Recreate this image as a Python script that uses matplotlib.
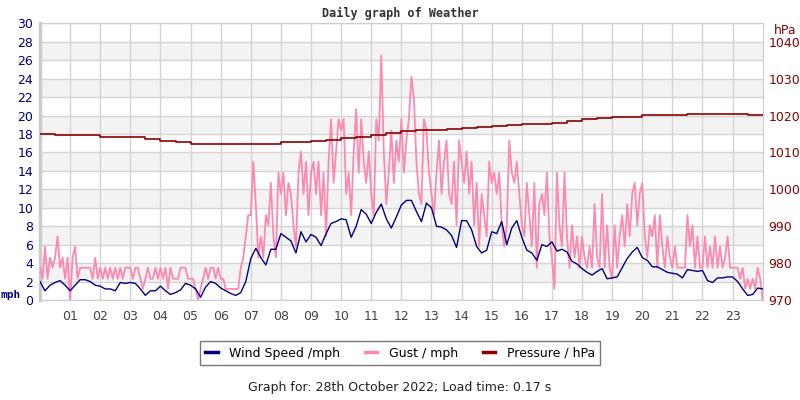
import numpy as np
import matplotlib
matplotlib.use('Agg')
import matplotlib.pyplot as plt
from matplotlib.lines import Line2D

# Wind speed (mph), one reading every 10 minutes, 00:00 -> 24:00
wind_speed = [
    2.0, 1.0, 1.6, 1.9, 2.1, 1.6,
    1.0, 1.6, 2.2, 2.2, 2.0, 1.6,
    1.5, 1.2, 1.2, 1.0, 1.9, 1.8,
    1.9, 1.8, 1.2, 0.5, 1.0, 1.0,
    1.5, 1.0, 0.6, 0.8, 1.1, 1.8,
    1.6, 1.2, 0.3, 1.4, 2.0, 1.8,
    1.3, 1.0, 0.7, 0.5, 0.8, 2.0,
    4.5, 5.6, 4.6, 3.8, 5.5, 5.5,
    7.2, 6.8, 6.4, 5.1, 7.4, 6.3,
    7.1, 6.8, 5.9, 7.2, 8.3, 8.5,
    8.8, 8.7, 6.8, 8.0, 9.8, 9.3,
    8.3, 9.5, 10.4, 8.8, 7.8, 9.0,
    10.3, 10.8, 10.8, 9.6, 8.5, 10.5,
    10.0, 8.0, 7.9, 7.6, 7.0, 5.7,
    8.6, 8.6, 7.6, 5.8, 5.1, 5.4,
    7.4, 7.2, 8.5, 6.0, 7.8, 8.6,
    6.8, 5.4, 5.1, 4.3, 6.0, 5.8,
    6.3, 5.3, 5.5, 5.2, 4.2, 3.9,
    3.4, 3.0, 2.7, 3.1, 3.4, 2.3,
    2.4, 2.5, 3.5, 4.5, 5.2, 5.7,
    4.6, 4.3, 3.6, 3.6, 3.3, 3.0,
    2.9, 2.8, 2.4, 3.3, 3.2, 3.1,
    3.2, 2.1, 1.9, 2.4, 2.4, 2.5,
    2.5, 2.0, 1.2, 0.5, 0.6, 1.3,
    1.2,
]

# Gust (mph), one reading every 5 minutes
gust = [
    3.5, 2.3, 5.8, 2.3, 4.6, 3.5, 4.6, 6.9, 3.5, 4.6, 2.3, 4.6,
    0.0, 4.6, 5.8, 2.3, 3.5, 3.5, 3.5, 3.5, 3.5, 2.3, 4.6, 2.3,
    3.5, 2.3, 3.5, 2.3, 3.5, 2.3, 3.5, 2.3, 3.5, 2.3, 3.5, 3.5,
    3.5, 2.3, 3.5, 3.5, 2.3, 1.2, 2.3, 3.5, 2.3, 2.3, 3.5, 2.3,
    3.5, 2.3, 3.5, 1.2, 3.5, 2.3, 2.3, 2.3, 3.5, 3.5, 3.5, 2.3,
    2.3, 2.3, 1.2, 0.0, 1.2, 2.3, 3.5, 2.3, 3.5, 3.5, 2.3, 3.5,
    2.3, 2.3, 1.2, 1.2, 1.2, 1.2, 1.2, 1.2, 3.5, 4.6, 6.9, 9.2,
    9.2, 15.0, 10.4, 4.6, 6.9, 4.6, 9.2, 8.1, 12.7, 6.9, 4.6, 13.8,
    11.5, 13.8, 9.2, 12.7, 11.5, 8.1, 5.8, 13.8, 16.1, 11.5, 15.0, 9.2,
    13.8, 15.0, 11.5, 15.0, 9.2, 13.8, 6.9, 15.0, 19.6, 12.7, 16.1, 19.6,
    18.4, 19.6, 11.5, 13.8, 9.2, 16.1, 20.7, 13.8, 19.6, 15.0, 12.7, 16.1,
    11.5, 9.2, 19.6, 17.3, 26.5, 16.1, 10.4, 13.8, 18.4, 12.7, 17.3, 15.0,
    19.6, 13.8, 17.3, 19.6, 24.2, 21.9, 15.0, 11.5, 10.4, 19.6, 18.4, 13.8,
    11.5, 9.2, 13.8, 17.3, 11.5, 15.0, 17.3, 11.5, 10.4, 15.0, 8.1, 17.3,
    15.0, 12.7, 16.1, 11.5, 15.0, 8.1, 12.7, 5.8, 11.5, 9.2, 6.9, 15.0,
    12.7, 13.8, 11.5, 13.8, 8.1, 5.8, 8.1, 17.3, 13.8, 12.7, 15.0, 11.5,
    8.1, 6.9, 12.7, 9.2, 5.8, 12.7, 3.5, 10.4, 11.5, 9.2, 13.8, 6.9,
    4.6, 1.2, 13.8, 8.1, 5.8, 13.8, 6.9, 3.5, 8.1, 4.6, 6.9, 3.5,
    6.9, 4.6, 3.5, 5.8, 3.5, 10.4, 4.6, 3.5, 11.5, 3.5, 8.1, 3.5,
    2.3, 8.1, 3.5, 6.9, 9.2, 5.8, 10.4, 6.9, 11.5, 12.7, 8.1, 11.5,
    12.7, 6.9, 4.6, 8.1, 6.9, 9.2, 3.5, 9.2, 5.8, 3.5, 6.9, 4.6,
    3.5, 5.8, 3.5, 3.5, 3.5, 3.5, 9.2, 5.8, 8.1, 3.5, 6.9, 3.5,
    3.5, 6.9, 3.5, 5.8, 3.5, 6.9, 3.5, 5.8, 3.5, 4.6, 6.9, 3.5,
    3.5, 3.5, 3.5, 2.3, 3.5, 1.2, 2.3, 1.2, 2.3, 1.2, 3.5, 2.3,
    0.0,
]

# Pressure (hPa), every 30 minutes
pressure = [
    1015.0, 1014.6, 1014.6, 1014.6, 1014.3, 1014.3, 1014.1, 1013.6,
    1013.2, 1012.8, 1012.4, 1012.4, 1012.2, 1012.4, 1012.4, 1012.4,
    1012.7, 1012.7, 1013.1, 1013.5, 1013.9, 1014.2, 1014.7, 1015.2,
    1015.8, 1016.1, 1016.2, 1016.4, 1016.7, 1017.0, 1017.2, 1017.4,
    1017.6, 1017.7, 1018.0, 1018.6, 1019.0, 1019.2, 1019.5, 1019.5,
    1020.1, 1020.1, 1020.1, 1020.4, 1020.5, 1020.5, 1020.4, 1020.1,
    1020.1,
]

hour_labels = ['%02d' % h for h in range(1, 24)]

wind_t = np.arange(len(wind_speed)) * 10 / 60
gust_t = np.arange(len(gust)) * 5 / 60
pres_t = np.arange(len(pressure)) * 30 / 60

NAVY = '#000080'
PINK = '#ff88b0'
DRED = '#8b0000'

fig = plt.figure(figsize=(8, 4), dpi=100)
ax = fig.add_axes([0.05, 0.25, 0.9034, 0.6918])

# alternating light bands
for lo in range(2, 30, 4):
    ax.axhspan(lo, lo + 2, color='#f3f3f3', zorder=0, lw=0)

ax.set_xlim(0, 24)
ax.set_ylim(0, 30)
ax.set_yticks(range(0, 31, 2))
ax.set_xticks(range(1, 24))
ax.set_xticklabels(hour_labels)
ax.grid(True, color='#d4d4d4', lw=1, zorder=1)
ax.set_axisbelow(True)

ax.plot(gust_t, gust, color=PINK, lw=1.3, zorder=3)
ax.plot(wind_t, wind_speed, color=NAVY, lw=1, zorder=4)

ax.tick_params(axis='y', length=0, labelsize=9, labelcolor=NAVY, pad=5)
ax.tick_params(axis='x', length=0, labelsize=9, labelcolor='#444444', pad=7)
for s in ax.spines.values():
    s.set_color('#cccccc')
ax.spines['left'].set_linewidth(2.5)

ax2 = ax.twinx()
ax2.set_ylim(970, 1045)
ax2.set_yticks(range(970, 1041, 10))
ax2.step(pres_t, pressure, where='post', color=DRED, lw=1.2)
ax2.tick_params(axis='y', length=0, labelsize=9, labelcolor=DRED, pad=4)
for s in ax2.spines.values():
    s.set_visible(False)

fig.text(0.5, 0.967, 'Daily graph of Weather', ha='center', va='center',
         family='DejaVu Sans Mono', weight='bold', fontsize=8.5, color='#333333')
fig.text(0.001, 0.262, 'mph', ha='left', va='center', weight='bold',
         family='DejaVu Sans Mono', fontsize=8, color=NAVY)
fig.text(0.982, 0.925, 'hPa', ha='center', va='center', fontsize=9, color=DRED)

handles = [Line2D([], [], color=NAVY, lw=2.5),
           Line2D([], [], color=PINK, lw=2.5),
           Line2D([], [], color=DRED, lw=2.5)]
leg = fig.legend(handles, ['Wind Speed /mph', 'Gust / mph', 'Pressure / hPa'],
                 loc='center', bbox_to_anchor=(0.5, 0.1175), ncol=3,
                 fontsize=9, handlelength=1.0, handletextpad=0.9,
                 columnspacing=2.0, fancybox=False, framealpha=1,
                 borderpad=0.45)
leg.get_frame().set_edgecolor('#777777')
leg.get_frame().set_linewidth(1)

fig.text(0.5, 0.03, 'Graph for: 28th October 2022; Load time: 0.17 s',
         ha='center', va='center', fontsize=9, color='#222222')

fig.savefig('out.png', dpi=100)
